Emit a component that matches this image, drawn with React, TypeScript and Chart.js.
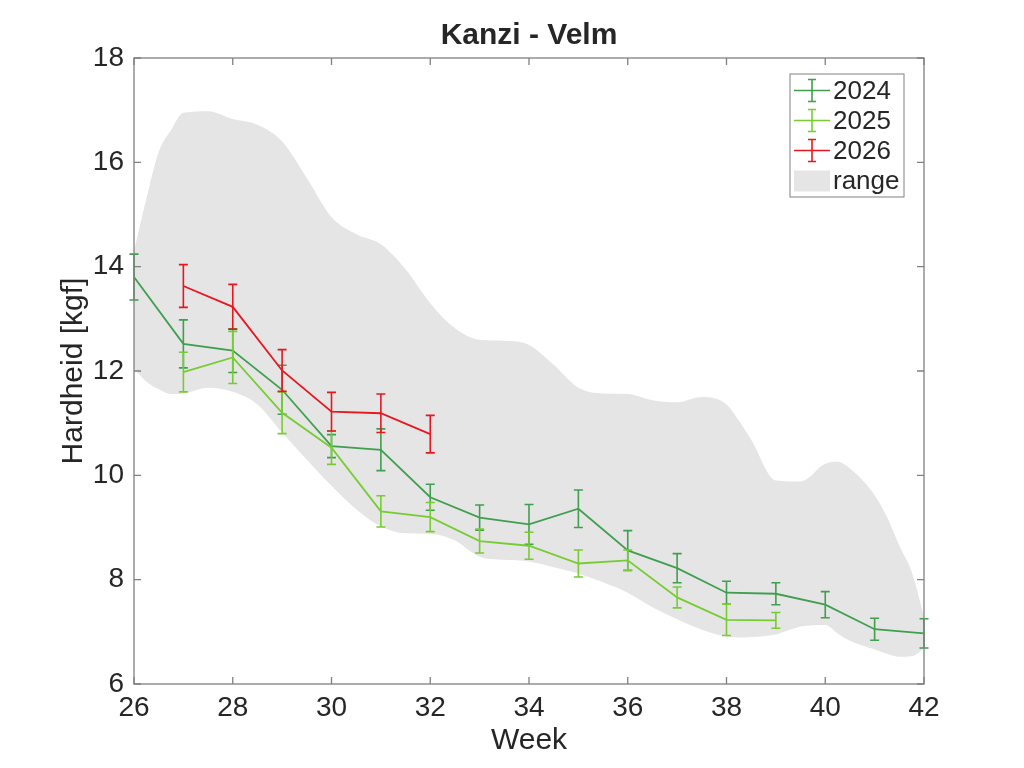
import { useEffect, useRef } from "react";
import { Chart, registerables } from "chart.js";

Chart.register(...registerables);

const FONT = "'Liberation Sans', Arial, sans-serif";
const TEXT = "#262626";
const AXIS = "#808080";
const RANGE_FILL = "#e5e5e5";

const C2024 = "#3f9f4f";
const C2025 = "#77cc33";
const C2026 = "#e8171f";

const WEEKS_2024 = [26, 27, 28, 29, 30, 31, 32, 33, 34, 35, 36, 37, 38, 39, 40, 41, 42];
const MEAN_2024 = [13.8, 12.52, 12.39, 11.64, 10.56, 10.49, 9.58, 9.19, 9.06, 9.36, 8.56, 8.22, 7.75, 7.73, 7.52, 7.05, 6.97];
const ERR_2024 = [0.44, 0.46, 0.42, 0.47, 0.22, 0.4, 0.25, 0.24, 0.38, 0.36, 0.38, 0.28, 0.22, 0.21, 0.25, 0.21, 0.28];

const WEEKS_2025 = [27, 28, 29, 30, 31, 32, 33, 34, 35, 36, 37, 38, 39];
const MEAN_2025 = [11.98, 12.26, 11.2, 10.53, 9.31, 9.2, 8.74, 8.65, 8.31, 8.37, 7.66, 7.23, 7.22];
const ERR_2025 = [0.38, 0.5, 0.4, 0.32, 0.3, 0.28, 0.23, 0.26, 0.26, 0.2, 0.2, 0.3, 0.15];

const WEEKS_2026 = [27, 28, 29, 30, 31, 32];
const MEAN_2026 = [13.63, 13.23, 12.01, 11.22, 11.19, 10.79];
const ERR_2026 = [0.41, 0.43, 0.4, 0.37, 0.37, 0.36];

// range band
const BAND_WEEKS = [26, 26.25, 26.5, 26.75, 27, 27.5, 28, 28.5, 29, 29.5, 30, 30.5, 31, 31.5, 32, 32.5, 33, 33.5, 34, 34.5, 35, 35.5, 36, 36.5, 37, 37.5, 38, 38.25, 38.5, 39, 39.5, 40, 40.25, 40.5, 41, 41.25, 41.5, 41.75, 42];
const BAND_UPPER = [14.3, 15.3, 16.2, 16.62, 16.95, 16.98, 16.83, 16.72, 16.4, 15.7, 14.95, 14.62, 14.43, 13.95, 13.3, 12.82, 12.6, 12.58, 12.5, 12.12, 11.68, 11.57, 11.56, 11.44, 11.4, 11.5, 11.36, 11.05, 10.68, 9.9, 9.88, 10.22, 10.26, 10.13, 9.62, 9.2, 8.65, 8.15, 7.3];
const BAND_LOWER = [12.05, 11.8, 11.65, 11.56, 11.57, 11.68, 11.6, 11.36, 10.82, 10.3, 9.8, 9.35, 9.02, 8.89, 8.88, 8.75, 8.44, 8.38, 8.35, 8.24, 8.12, 7.95, 7.75, 7.47, 7.24, 7.04, 6.91, 6.89, 6.9, 6.95, 7.1, 7.13, 6.97, 6.83, 6.66, 6.58, 6.52, 6.53, 6.68];

const X_TICKS = [26, 28, 30, 32, 34, 36, 38, 40, 42];
const Y_TICKS = [6, 8, 10, 12, 14, 16, 18];

const LEGEND_ITEMS = [
  { label: "2024", color: C2024, kind: "bar" },
  { label: "2025", color: C2025, kind: "bar" },
  { label: "2026", color: C2026, kind: "bar" },
  { label: "range", color: RANGE_FILL, kind: "patch" },
];

const toPoints = (xs: number[], ys: number[]) => xs.map((x, i) => ({ x, y: ys[i] }));

const errorBars = {
  id: "errorBars",
  afterDatasetDraw(chart: any, args: any) {
    const ds = chart.data.datasets[args.index];
    if (!ds.errors) return;
    const { ctx } = chart;
    const xs = chart.scales.x;
    const ys = chart.scales.y;
    ctx.save();
    ctx.strokeStyle = ds.borderColor;
    ctx.lineWidth = 1.6;
    ds.data.forEach((p: { x: number; y: number }, i: number) => {
      const e = ds.errors[i];
      const x = xs.getPixelForValue(p.x);
      const top = ys.getPixelForValue(p.y + e);
      const bot = ys.getPixelForValue(p.y - e);
      ctx.beginPath();
      ctx.moveTo(x, top);
      ctx.lineTo(x, bot);
      ctx.moveTo(x - 4.5, top);
      ctx.lineTo(x + 4.5, top);
      ctx.moveTo(x - 4.5, bot);
      ctx.lineTo(x + 4.5, bot);
      ctx.stroke();
    });
    ctx.restore();
  },
};

const axesBox = {
  id: "axesBox",
  afterDatasetsDraw(chart: any) {
    const { ctx, chartArea } = chart;
    const { left, right, top, bottom } = chartArea;
    const xs = chart.scales.x;
    const ys = chart.scales.y;
    const len = 7;
    ctx.save();
    ctx.strokeStyle = AXIS;
    ctx.lineWidth = 1.3;
    ctx.strokeRect(left, top, right - left, bottom - top);
    ctx.beginPath();
    X_TICKS.forEach((v) => {
      const x = xs.getPixelForValue(v);
      ctx.moveTo(x, bottom);
      ctx.lineTo(x, bottom - len);
      ctx.moveTo(x, top);
      ctx.lineTo(x, top + len);
    });
    Y_TICKS.forEach((v) => {
      const y = ys.getPixelForValue(v);
      ctx.moveTo(left, y);
      ctx.lineTo(left + len, y);
      ctx.moveTo(right, y);
      ctx.lineTo(right - len, y);
    });
    ctx.stroke();
    ctx.restore();
  },
};

const boxLegend = {
  id: "boxLegend",
  afterDraw(chart: any) {
    const { ctx, chartArea } = chart;
    const w = 114;
    const h = 123;
    const x0 = chartArea.right - 20 - w;
    const y0 = chartArea.top + 16;
    ctx.save();
    ctx.fillStyle = "#ffffff";
    ctx.fillRect(x0, y0, w, h);
    ctx.strokeStyle = AXIS;
    ctx.lineWidth = 1;
    ctx.strokeRect(x0, y0, w, h);
    ctx.font = `26px ${FONT}`;
    ctx.textBaseline = "middle";
    ctx.textAlign = "left";
    LEGEND_ITEMS.forEach((item, i) => {
      const cy = y0 + 16.5 + i * 30;
      const sx = x0 + 4;
      const ex = x0 + 40;
      const mx = (sx + ex) / 2;
      if (item.kind === "bar") {
        ctx.strokeStyle = item.color;
        ctx.lineWidth = 1.6;
        ctx.beginPath();
        ctx.moveTo(sx, cy);
        ctx.lineTo(ex, cy);
        ctx.moveTo(mx, cy - 11);
        ctx.lineTo(mx, cy + 11);
        ctx.moveTo(mx - 4, cy - 11);
        ctx.lineTo(mx + 4, cy - 11);
        ctx.moveTo(mx - 4, cy + 11);
        ctx.lineTo(mx + 4, cy + 11);
        ctx.stroke();
      } else {
        ctx.fillStyle = item.color;
        ctx.fillRect(sx, cy - 10, ex - sx, 21);
      }
      ctx.fillStyle = TEXT;
      ctx.fillText(item.label, x0 + 43, cy + 1);
    });
    ctx.restore();
  },
};

export function HardnessChart() {
  const chartRef = useRef<HTMLCanvasElement | null>(null);

  useEffect(() => {
    const canvas = chartRef.current;
    if (!canvas) return;

    const lineStyle = (color: string) => ({
      borderColor: color,
      backgroundColor: color,
      borderWidth: 1.8,
      pointRadius: 0,
      tension: 0,
      fill: false,
    });

    const chart = new Chart(canvas, {
      type: "line",
      data: {
        datasets: [
          {
            label: "range-lower",
            data: toPoints(BAND_WEEKS, BAND_LOWER),
            borderWidth: 0,
            borderColor: "rgba(0,0,0,0)",
            pointRadius: 0,
            cubicInterpolationMode: "monotone",
            fill: false,
            order: 10,
          },
          {
            label: "range",
            data: toPoints(BAND_WEEKS, BAND_UPPER),
            borderWidth: 0,
            borderColor: "rgba(0,0,0,0)",
            backgroundColor: RANGE_FILL,
            pointRadius: 0,
            cubicInterpolationMode: "monotone",
            fill: 0,
            order: 9,
          },
          {
            label: "2024",
            data: toPoints(WEEKS_2024, MEAN_2024),
            errors: ERR_2024,
            ...lineStyle(C2024),
            order: 3,
          } as any,
          {
            label: "2025",
            data: toPoints(WEEKS_2025, MEAN_2025),
            errors: ERR_2025,
            ...lineStyle(C2025),
            order: 2,
          } as any,
          {
            label: "2026",
            data: toPoints(WEEKS_2026, MEAN_2026),
            errors: ERR_2026,
            ...lineStyle(C2026),
            order: 1,
          } as any,
        ],
      },
      options: {
        responsive: false,
        animation: false,
        layout: { padding: { right: 100 } },
        plugins: {
          legend: { display: false },
          tooltip: { enabled: false },
          title: {
            display: true,
            fullSize: false,
            text: "Kanzi - Velm",
            color: TEXT,
            font: { family: FONT, size: 30, weight: "bold" },
            padding: { top: 18, bottom: 4 },
          },
        },
        scales: {
          x: {
            type: "linear",
            min: 26,
            max: 42,
            afterBuildTicks: (scale: any) => {
              scale.ticks = X_TICKS.map((value) => ({ value }));
            },
            afterFit: (scale: any) => {
              scale.height = 84;
            },
            grid: { display: false, drawTicks: false },
            border: { display: false },
            ticks: {
              color: TEXT,
              font: { family: FONT, size: 28 },
              padding: 7,
              maxRotation: 0,
            },
            title: {
              display: true,
              text: "Week",
              color: TEXT,
              font: { family: FONT, size: 30 },
              padding: { top: 0, bottom: 9 },
            },
          },
          y: {
            type: "linear",
            min: 6,
            max: 18,
            afterBuildTicks: (scale: any) => {
              scale.ticks = Y_TICKS.map((value) => ({ value }));
            },
            afterFit: (scale: any) => {
              scale.width = 134;
            },
            grid: { display: false, drawTicks: false },
            border: { display: false },
            ticks: {
              color: TEXT,
              font: { family: FONT, size: 28 },
              padding: 10,
            },
            title: {
              display: true,
              text: "Hardheid [kgf]",
              color: TEXT,
              font: { family: FONT, size: 30 },
              padding: { top: 56, bottom: 0 },
            },
          },
        },
      },
      plugins: [errorBars, axesBox, boxLegend],
    });

    return () => {
      chart.destroy();
    };
  }, []);

  return <canvas ref={chartRef} width={1024} height={768} style={{ display: "block" }} />;
}

export default function App() {
  useEffect(() => {
    document.body.style.margin = "0";
  }, []);
  return (
    <div style={{ width: 1024, height: 768, background: "#fff" }}>
      <HardnessChart />
    </div>
  );
}
